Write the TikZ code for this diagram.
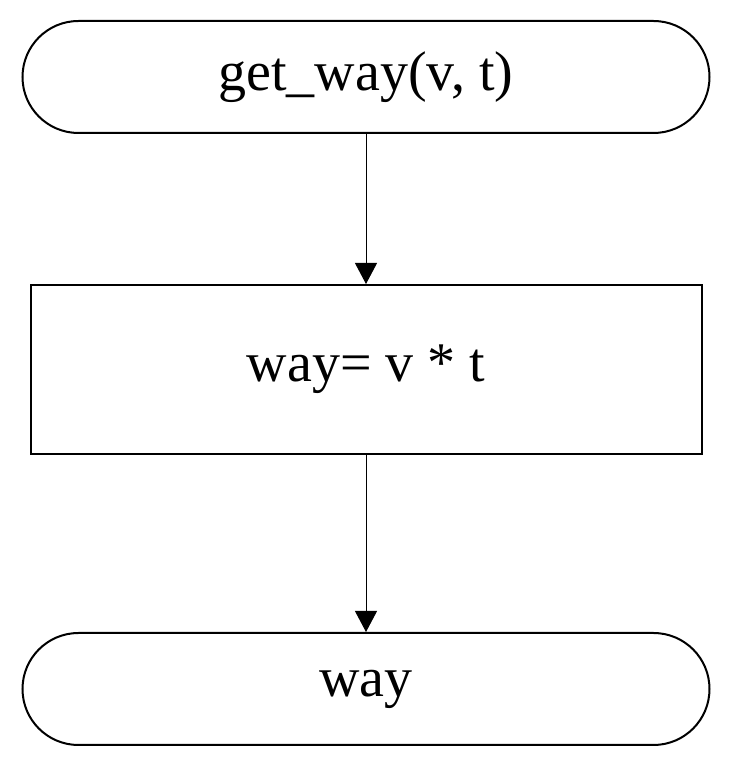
\documentclass[tikz,border=0pt]{standalone}
\usepackage{fontspec}
\setmainfont{Liberation Serif}
\usetikzlibrary{positioning,arrows.meta}
\begin{document}
\begin{tikzpicture}[auto,
    terminal/.style={draw, line width=2pt, rectangle, rounded corners=56pt, minimum width=687pt, minimum height=112pt, font=\fontsize{56}{66}\selectfont},
    process/.style={draw, line width=2pt, rectangle, minimum width=671pt, minimum height=169pt, font=\fontsize{56}{66}\selectfont},
    flow/.style={-{Triangle[length=21pt,width=22pt]}, line width=1pt}]
    \useasboundingbox (0,0) rectangle (732pt,768pt);
    % Nodes
    \node (start) [terminal] at (366pt,691pt) {get\_way(v, t)};
    \node (calc) [process, below=150pt of start] {way= v * t};
    \node (result) [terminal, below=177pt of calc] {way};

    % Arrows
    \draw[flow] (start) -- (calc);
    \draw[flow] (calc) -- (result);
\end{tikzpicture}
\end{document}
